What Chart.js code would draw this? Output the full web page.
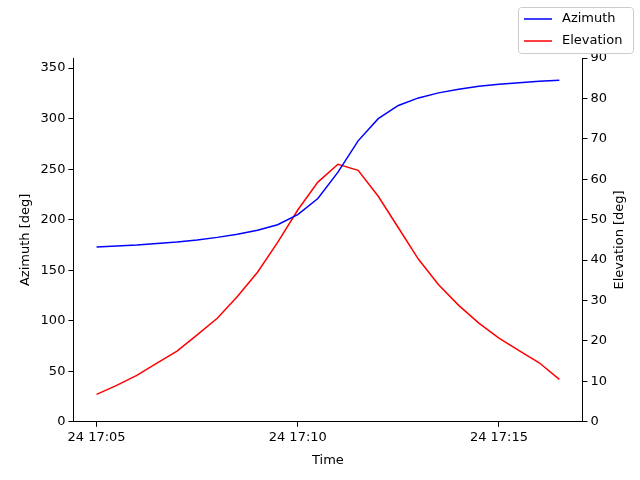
<!DOCTYPE html>
<html>
<head>
<meta charset="UTF-8">
<script src="https://cdn.jsdelivr.net/npm/chart.js"></script>
<style>body{margin:0;background:#fff}</style>
</head>
<body>
<canvas id="c" width="640" height="480"></canvas>
<script>
// minutes after 17:00 on day 24
var minutes = [5, 5.5, 6, 6.5, 7, 7.5, 8, 8.5, 9, 9.5, 10, 10.5, 11, 11.5, 12, 12.5, 13, 13.5, 14, 14.5, 15, 15.5, 16, 16.5];
var azimuth = [173, 174, 175, 176.5, 178, 180, 182.5, 185.5, 189.5, 195, 205, 221, 247, 278, 300, 313, 320.5, 325.5, 329, 332, 334, 335.5, 337, 338];
var elevation = [6.8, 9, 11.5, 14.5, 17.5, 21.5, 25.6, 31, 37, 44.4, 52.4, 59.3, 63.7, 62.2, 55.8, 48, 40.2, 33.9, 28.8, 24.4, 20.7, 17.6, 14.6, 10.5];
var xTicks = [5, 10, 15];

function pts(ys) { return minutes.map(function(m, i) { return {x: m, y: ys[i]}; }); }

var extras = {
    id: 'extras',
    afterDraw: function(chart) {
        var ctx = chart.ctx;
        var x = 518, y = 7, w = 115, h = 46;
        ctx.save();
        ctx.fillStyle = '#fff';
        ctx.strokeStyle = '#ccc';
        ctx.lineWidth = 1;
        ctx.beginPath();
        ctx.roundRect(x + 0.5, y + 0.5, w, h, 3);
        ctx.fill(); ctx.stroke();
        ctx.font = '13px "DejaVu Sans"';
        ctx.textBaseline = 'middle';
        chart.data.datasets.forEach(function(ds, i) {
            var ly = y + 12 + i * 22;
            ctx.strokeStyle = ds.borderColor;
            ctx.lineWidth = 1.5;
            ctx.beginPath(); ctx.moveTo(x + 6, ly); ctx.lineTo(x + 34, ly); ctx.stroke();
            ctx.fillStyle = '#000';
            ctx.fillText(ds.label, x + 44, ly);
        });
        // right axis title, reading bottom to top
        var a = chart.chartArea;
        ctx.translate(620, (a.top + a.bottom) / 2);
        ctx.rotate(-Math.PI / 2);
        ctx.textAlign = 'center';
        ctx.fillText('Elevation [deg]', 0, 0);
        ctx.restore();
    }
};

Chart.defaults.font.family = '"DejaVu Sans"';
Chart.defaults.color = '#000';
new Chart(document.getElementById('c'), {
    type: 'line',
    data: {
        datasets: [
            {label: 'Azimuth', data: pts(azimuth), borderColor: 'blue', yAxisID: 'y', borderWidth: 1.5, pointRadius: 0, tension: 0},
            {label: 'Elevation', data: pts(elevation), borderColor: 'red', yAxisID: 'y1', borderWidth: 1.5, pointRadius: 0, tension: 0}
        ]
    },
    options: {
        responsive: false, animation: false, devicePixelRatio: 1,
        layout: {padding: {top: 58, right: 30, left: 14, bottom: 8}},
        plugins: {legend: {display: false}, tooltip: {enabled: false}},
        scales: {
            x: {
                type: 'linear', min: 4.425, max: 17.075,
                afterBuildTicks: function(s) { s.ticks = xTicks.map(function(v) { return {value: v}; }); },
                ticks: {font: {size: 13}, autoSkip: false, maxRotation: 0, callback: function(v) { return '24 17:' + String(v).padStart(2, '0'); }},
                grid: {display: true, drawOnChartArea: false, tickLength: 5, color: '#000'},
                border: {color: '#000'},
                title: {display: true, text: 'Time', font: {size: 13}}
            },
            y: {
                position: 'left', min: 0, max: 360,
                afterBuildTicks: function(s) { s.ticks = [0, 50, 100, 150, 200, 250, 300, 350].map(function(v) { return {value: v}; }); },
                ticks: {font: {size: 13}, autoSkip: false},
                grid: {display: true, drawOnChartArea: false, tickLength: 5, color: '#000'},
                border: {color: '#000'},
                title: {display: true, text: 'Azimuth [deg]', font: {size: 13}}
            },
            y1: {
                position: 'right', min: 0, max: 90,
                ticks: {stepSize: 10, font: {size: 13}, autoSkip: false},
                grid: {display: true, drawOnChartArea: false, tickLength: 5, color: '#000'},
                border: {color: '#000'}
            }
        }
    },
    plugins: [extras]
});
</script>
</body>
</html>
